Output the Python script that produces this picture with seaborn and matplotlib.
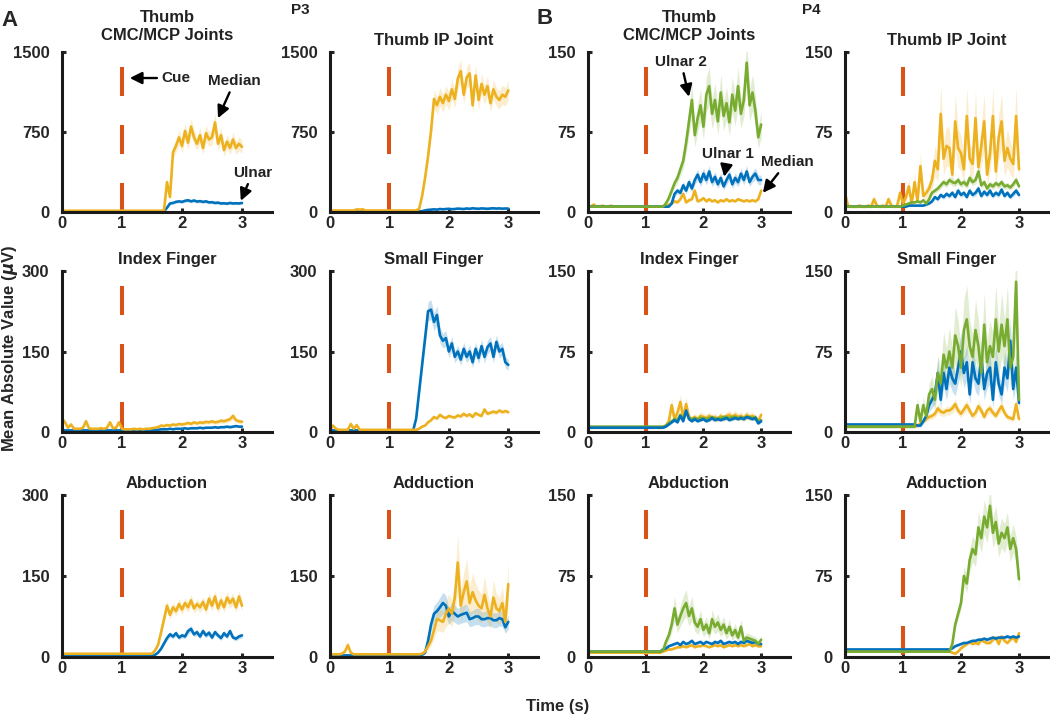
import numpy as np
import matplotlib.pyplot as plt
import seaborn as sns

# time axis (s), one sample every 50 ms
t = np.round(np.arange(61) * 0.05, 2)

# ---------------- P3 (median = yellow, ulnar = blue) ----------------
p3_cmc_median = [12, 12, 12, 12, 12, 12, 12, 12, 12, 12, 12, 12, 12, 12, 12, 12, 12, 12, 12, 12,
                 12, 12, 12, 12, 12, 12, 12, 12, 12, 12, 12, 12, 12, 12, 15, 280, 140, 560, 620, 700,
                 620, 760, 650, 800, 700, 640, 720, 600, 740, 680, 700, 840, 640, 720, 580, 660, 600, 680, 600, 640, 610]
p3_cmc_ulnar = [5, 5, 5, 5, 5, 5, 5, 5, 5, 5, 5, 5, 5, 5, 5, 5, 5, 5, 5, 5,
                5, 5, 5, 5, 5, 5, 5, 5, 5, 5, 5, 5, 5, 5, 6, 40, 80, 85, 95, 100,
                95, 105, 110, 100, 108, 98, 102, 95, 100, 90, 92, 85, 88, 80, 82, 78, 85, 80, 82, 80, 85]
p3_ip_median = [14, 14, 14, 14, 14, 14, 14, 14, 14, 25, 22, 25, 14, 14, 14, 14, 14, 14, 14, 14,
                14, 14, 14, 14, 14, 14, 14, 14, 14, 15, 30, 150, 320, 520, 760, 1060, 1000, 1080, 1020, 1100,
                1040, 1150, 1060, 1250, 1320, 1100, 1260, 1300, 1000, 1280, 1050, 1200, 1100, 1180, 1020, 1150,
                1080, 1050, 1100, 1080, 1140]
p3_ip_ulnar = [5, 5, 5, 5, 5, 5, 5, 5, 5, 5, 5, 5, 5, 5, 5, 5, 5, 5, 5, 5,
               5, 5, 5, 5, 5, 5, 5, 5, 5, 5, 5, 8, 15, 20, 22, 25, 22, 28, 25, 28,
               30, 26, 28, 32, 30, 28, 33, 30, 35, 32, 30, 34, 32, 30, 33, 35, 32, 34, 31, 33, 32]
p3_index_median = [25, 18, 8, 14, 6, 6, 6, 8, 20, 7, 6, 6, 6, 7, 6, 8, 18, 7, 8, 18,
                   6, 5, 5, 5, 6, 5, 6, 5, 6, 6, 7, 8, 9, 12, 11, 13, 12, 14, 13, 15,
                   14, 15, 17, 15, 18, 16, 18, 17, 19, 18, 20, 18, 19, 21, 20, 22, 24, 30, 22, 20, 19]
p3_index_ulnar = [4, 3, 3, 3, 3, 3, 3, 3, 3, 3, 3, 3, 3, 3, 3, 3, 3, 3, 3, 3,
                  3, 3, 3, 3, 3, 3, 3, 3, 3, 3, 3, 4, 4, 5, 5, 5, 6, 5, 6, 6,
                  6, 7, 6, 7, 7, 7, 8, 7, 8, 8, 8, 9, 8, 9, 9, 10, 9, 10, 11, 10, 10]
p3_small_median = [4, 12, 6, 4, 4, 4, 4, 15, 6, 13, 4, 4, 4, 4, 4, 4, 4, 4, 4, 4,
                   4, 4, 4, 4, 4, 4, 4, 4, 4, 4, 6, 10, 12, 18, 22, 28, 25, 32, 28, 26,
                   30, 28, 27, 31, 29, 34, 30, 33, 28, 35, 32, 30, 42, 34, 36, 38, 36, 40, 37, 39, 37]
p3_small_ulnar = [3, 3, 3, 3, 3, 3, 3, 3, 3, 3, 3, 3, 3, 3, 3, 3, 3, 3, 3, 3,
                  3, 3, 3, 3, 3, 3, 3, 3, 3, 25, 75, 125, 175, 225, 228, 205, 218, 180, 170, 175,
                  150, 165, 140, 150, 135, 155, 140, 150, 130, 155, 138, 160, 140, 158, 165, 140, 168, 150, 155, 130, 125]
p3_abd_median = [6, 6, 6, 6, 6, 6, 6, 6, 6, 6, 6, 6, 6, 6, 6, 6, 6, 6, 6, 6,
                 6, 6, 6, 6, 6, 6, 6, 6, 6, 6, 6, 12, 22, 45, 70, 95, 78, 92, 85, 98,
                 88, 100, 92, 105, 90, 98, 92, 102, 88, 108, 95, 112, 90, 105, 92, 110, 100, 108, 92, 112, 95]
p3_abd_ulnar = [2, 2, 2, 2, 2, 2, 2, 2, 2, 2, 2, 2, 2, 2, 2, 2, 2, 2, 2, 2,
                2, 2, 2, 2, 2, 2, 2, 2, 2, 2, 2, 4, 8, 15, 25, 35, 42, 38, 44, 36,
                40, 38, 48, 52, 42, 46, 38, 48, 40, 45, 36, 46, 40, 35, 44, 38, 48, 36, 34, 38, 40]
p3_add_median = [5, 5, 5, 5, 6, 10, 22, 8, 5, 5, 5, 5, 5, 5, 5, 5, 5, 5, 5, 5,
                 5, 5, 5, 5, 5, 5, 5, 5, 5, 5, 5, 6, 10, 20, 30, 50, 70, 68, 65, 80,
                 90, 80, 110, 175, 95, 120, 140, 100, 120, 105, 95, 90, 115, 90, 75, 110, 90, 85, 100, 65, 135]
p3_add_ulnar = [3, 3, 3, 3, 3, 3, 3, 3, 3, 3, 3, 3, 3, 3, 3, 3, 3, 3, 3, 3,
                3, 3, 3, 3, 3, 3, 3, 3, 3, 3, 3, 4, 8, 30, 60, 80, 85, 92, 100, 95,
                75, 85, 80, 75, 78, 80, 82, 70, 72, 75, 75, 70, 70, 72, 72, 68, 68, 72, 70, 55, 65]

# ---------------- P4 (median = yellow, ulnar 1 = blue, ulnar 2 = green) ----------------
p4_cmc_median = [6, 5, 7, 5, 5, 6, 5, 5, 6, 5, 5, 5, 5, 5, 5, 5, 5, 5, 5, 5,
                 5, 5, 5, 5, 5, 5, 5, 5, 7, 8, 10, 9, 12, 17, 9, 11, 12, 20, 10, 11,
                 13, 10, 12, 10, 11, 9, 11, 10, 12, 10, 11, 10, 12, 11, 10, 11, 10, 11, 10, 12, 20]
p4_cmc_ulnar1 = [5, 5, 5, 5, 5, 5, 5, 5, 5, 5, 5, 5, 5, 5, 5, 5, 5, 5, 5, 5,
                 5, 5, 5, 5, 5, 5, 5, 5, 5, 8, 17, 20, 18, 25, 20, 28, 22, 30, 35, 28,
                 36, 30, 38, 28, 33, 26, 32, 24, 30, 35, 26, 32, 28, 36, 30, 38, 28, 33, 36, 30, 30]
p4_cmc_ulnar2 = [5, 5, 5, 5, 5, 5, 5, 5, 5, 5, 5, 5, 5, 5, 5, 5, 5, 5, 5, 5,
                 5, 5, 5, 5, 5, 5, 5, 8, 13, 20, 27, 32, 40, 48, 65, 85, 105, 72, 88, 100,
                 80, 110, 118, 92, 105, 85, 112, 90, 102, 84, 110, 95, 118, 92, 105, 140, 100, 112, 95, 70, 82]
p4_ip_median = [18, 6, 5, 5, 5, 6, 5, 5, 6, 5, 12, 6, 5, 6, 5, 12, 6, 5, 6, 18,
                8, 14, 24, 8, 28, 10, 43, 15, 18, 22, 30, 48, 40, 92, 50, 62, 60, 35, 85, 60,
                55, 40, 90, 50, 45, 88, 42, 62, 85, 35, 55, 90, 38, 70, 85, 48, 60, 50, 45, 90, 40]
p4_ip_ulnar1 = [6, 5, 5, 5, 5, 5, 5, 5, 5, 5, 5, 5, 5, 5, 5, 5, 5, 5, 5, 5,
                5, 5, 6, 6, 6, 6, 6, 6, 7, 8, 10, 14, 12, 16, 14, 17, 15, 18, 14, 20,
                16, 18, 14, 20, 16, 18, 22, 15, 19, 16, 20, 15, 18, 16, 21, 15, 18, 14, 17, 20, 16]
p4_ip_ulnar2 = [5, 5, 5, 5, 5, 5, 5, 5, 5, 5, 5, 5, 5, 5, 5, 5, 5, 5, 5, 5,
                6, 7, 8, 9, 9, 10, 9, 11, 8, 12, 18, 20, 22, 25, 28, 26, 30, 28, 27, 30,
                26, 28, 25, 32, 28, 30, 38, 25, 28, 22, 26, 24, 27, 25, 28, 24, 25, 23, 26, 30, 24]
p4_index_median = [4, 4, 4, 4, 4, 4, 4, 4, 4, 4, 4, 4, 4, 4, 4, 4, 4, 4, 4, 4,
                   4, 4, 4, 4, 4, 4, 4, 6, 10, 25, 12, 18, 28, 14, 26, 14, 12, 14, 12, 15,
                   14, 13, 15, 13, 14, 12, 15, 13, 15, 16, 14, 16, 14, 15, 13, 16, 14, 15, 13, 10, 16]
p4_index_ulnar1 = [4, 4, 4, 4, 4, 4, 4, 4, 4, 4, 4, 4, 4, 4, 4, 4, 4, 4, 4, 4,
                   4, 4, 4, 4, 4, 4, 4, 5, 7, 9, 11, 9, 15, 10, 20, 12, 10, 12, 10, 11,
                   12, 10, 11, 13, 11, 12, 11, 12, 13, 11, 12, 13, 12, 13, 12, 14, 13, 12, 13, 8, 10]
p4_index_ulnar2 = [5, 5, 5, 5, 5, 5, 5, 5, 5, 5, 5, 5, 5, 5, 5, 5, 5, 5, 5, 5,
                   5, 5, 5, 5, 5, 5, 5, 6, 8, 10, 12, 11, 16, 12, 19, 13, 12, 13, 12, 13,
                   13, 12, 13, 14, 12, 13, 13, 14, 14, 13, 14, 14, 13, 14, 13, 14, 14, 13, 14, 10, 11]
p4_small_median = [5, 5, 5, 5, 5, 5, 5, 5, 5, 5, 5, 5, 5, 5, 5, 5, 5, 5, 5, 5,
                   5, 5, 5, 5, 5, 6, 8, 10, 12, 14, 15, 17, 22, 19, 18, 20, 20, 22, 26, 20,
                   17, 21, 25, 20, 15, 18, 24, 20, 14, 20, 22, 18, 15, 20, 24, 18, 14, 13, 12, 26, 12]
p4_small_ulnar1 = [7, 7, 7, 7, 7, 7, 7, 7, 7, 7, 7, 7, 7, 7, 7, 7, 7, 7, 7, 7,
                   7, 7, 7, 7, 7, 6, 6, 10, 15, 25, 30, 35, 55, 30, 55, 40, 60, 50, 45, 60,
                   75, 55, 65, 35, 65, 50, 45, 70, 40, 55, 60, 30, 65, 45, 35, 60, 50, 85, 40, 60, 27]
p4_small_ulnar2 = [5, 5, 5, 5, 5, 5, 5, 5, 5, 5, 5, 5, 5, 5, 5, 5, 5, 5, 5, 5,
                   5, 5, 5, 5, 5, 25, 10, 25, 15, 35, 40, 30, 55, 45, 72, 60, 75, 60, 90, 80,
                   60, 95, 105, 80, 70, 95, 80, 55, 100, 65, 80, 70, 105, 75, 100, 80, 105, 60, 70, 140, 30]
p4_abd_median = [4, 4, 4, 4, 4, 4, 4, 4, 4, 4, 4, 4, 4, 4, 4, 4, 4, 4, 4, 4,
                 4, 4, 4, 4, 4, 4, 5, 6, 7, 7, 8, 9, 9, 10, 9, 10, 11, 9, 10, 10,
                 11, 10, 9, 10, 11, 10, 11, 9, 10, 11, 10, 11, 10, 11, 10, 11, 12, 10, 11, 10, 10]
p4_abd_ulnar1 = [5, 5, 5, 5, 5, 5, 5, 5, 5, 5, 5, 5, 5, 5, 5, 5, 5, 5, 5, 5,
                 5, 5, 5, 5, 5, 5, 7, 8, 10, 11, 12, 13, 11, 14, 12, 13, 15, 12, 13, 14,
                 12, 14, 13, 12, 14, 13, 15, 12, 13, 14, 13, 14, 12, 14, 13, 15, 14, 13, 14, 12, 12]
p4_abd_ulnar2 = [5, 5, 5, 5, 5, 5, 5, 5, 5, 5, 5, 5, 5, 5, 5, 5, 5, 5, 5, 5,
                 5, 5, 5, 5, 5, 5, 6, 14, 20, 30, 45, 30, 38, 45, 50, 38, 45, 32, 28, 35,
                 25, 30, 22, 35, 28, 32, 25, 30, 22, 28, 20, 25, 18, 28, 15, 18, 17, 16, 15, 12, 16]
p4_add_median = [5, 5, 5, 5, 5, 5, 5, 5, 5, 5, 5, 5, 5, 5, 5, 5, 5, 5, 5, 5,
                 5, 5, 5, 5, 5, 5, 5, 5, 5, 5, 5, 5, 5, 5, 5, 5, 5, 4, 3, 5,
                 8, 10, 12, 14, 12, 13, 12, 16, 14, 13, 13, 16, 18, 12, 19, 15, 13, 16, 18, 14, 22]
p4_add_ulnar1 = [7, 7, 7, 7, 7, 7, 7, 7, 7, 7, 7, 7, 7, 7, 7, 7, 7, 7, 7, 7,
                 7, 7, 7, 7, 7, 7, 7, 7, 7, 7, 7, 7, 7, 7, 7, 7, 7, 8, 10, 11,
                 12, 13, 13, 14, 15, 15, 16, 16, 17, 16, 17, 18, 17, 18, 18, 18, 19, 18, 19, 18, 19]
p4_add_ulnar2 = [5, 5, 5, 5, 5, 5, 5, 5, 5, 5, 5, 5, 5, 5, 5, 5, 5, 5, 5, 5,
                 5, 5, 5, 5, 5, 5, 5, 5, 5, 5, 5, 5, 5, 5, 5, 5, 5, 12, 30, 40,
                 50, 75, 68, 90, 100, 95, 120, 110, 130, 120, 140, 115, 125, 105, 115, 110, 120, 100, 110, 100, 72]

BLUE, YELLOW, GREEN, RED = '#0072BD', '#EDB120', '#77AC30', '#D95319'

sns.set_theme(style='ticks')
plt.rcParams['font.family'] = ['Liberation Sans', 'DejaVu Sans']

fig = plt.figure(figsize=(10.5, 7.17), dpi=100)

col_left = [62, 330, 588, 845]
col_width = [210, 208, 202, 203]
row_top = [52, 271, 495]
row_height = [160, 161, 162]

# (row, col, title, y max, [(values, colour, relative band half-width)])
panels = [
    (0, 0, 'Thumb\nCMC/MCP Joints', 1500,
     [(p3_cmc_ulnar, BLUE, 0.15), (p3_cmc_median, YELLOW, 0.10)]),
    (0, 1, 'Thumb IP Joint', 1500,
     [(p3_ip_ulnar, BLUE, 0.20), (p3_ip_median, YELLOW, 0.08)]),
    (0, 2, 'Thumb\nCMC/MCP Joints', 150,
     [(p4_cmc_median, YELLOW, 0.12), (p4_cmc_ulnar1, BLUE, 0.15), (p4_cmc_ulnar2, GREEN, 0.15)]),
    (0, 3, 'Thumb IP Joint', 150,
     [(p4_ip_median, YELLOW, 0.30), (p4_ip_ulnar1, BLUE, 0.15), (p4_ip_ulnar2, GREEN, 0.12)]),
    (1, 0, 'Index Finger', 300,
     [(p3_index_ulnar, BLUE, 0.20), (p3_index_median, YELLOW, 0.20)]),
    (1, 1, 'Small Finger', 300,
     [(p3_small_ulnar, BLUE, 0.08), (p3_small_median, YELLOW, 0.10)]),
    (1, 2, 'Index Finger', 150,
     [(p4_index_median, YELLOW, 0.25), (p4_index_ulnar2, GREEN, 0.15), (p4_index_ulnar1, BLUE, 0.12)]),
    (1, 3, 'Small Finger', 150,
     [(p4_small_median, YELLOW, 0.20), (p4_small_ulnar1, BLUE, 0.25), (p4_small_ulnar2, GREEN, 0.30)]),
    (2, 0, 'Abduction', 300,
     [(p3_abd_ulnar, BLUE, 0.12), (p3_abd_median, YELLOW, 0.10)]),
    (2, 1, 'Adduction', 300,
     [(p3_add_ulnar, BLUE, 0.20), (p3_add_median, YELLOW, 0.30)]),
    (2, 2, 'Abduction', 150,
     [(p4_abd_median, YELLOW, 0.10), (p4_abd_ulnar1, BLUE, 0.10), (p4_abd_ulnar2, GREEN, 0.25)]),
    (2, 3, 'Adduction', 150,
     [(p4_add_median, YELLOW, 0.12), (p4_add_ulnar1, BLUE, 0.10), (p4_add_ulnar2, GREEN, 0.12)]),
]

W, H = 1050, 717
axes = {}
for r, c, title, ymax, series in panels:
    left = col_left[c] / W
    bottom = 1 - (row_top[r] + row_height[r]) / H
    ax = fig.add_axes([left, bottom, col_width[c] / W, row_height[r] / H])
    axes[(r, c)] = ax

    # cue marker at t = 1 s
    ax.plot([1, 1], [0.906 * ymax, 0], color=RED, lw=2.9,
            linestyle=(0, (7.2, 7.2)), dash_capstyle='butt', zorder=1.5)

    for vals, color, frac in series:
        v = np.asarray(vals, dtype=float)
        ax.fill_between(t, v * (1 - frac), v * (1 + frac), color=color, alpha=0.22, lw=0)
        sns.lineplot(x=t, y=v, color=color, lw=1.9, ax=ax)

    ax.set_xlim(0, 3.5)
    ax.set_ylim(0, ymax)
    ax.set_xticks([0, 1, 2, 3])
    ax.set_yticks([0, ymax // 2, ymax])
    ax.set_xticklabels(['0', '1', '2', '3'])
    ax.set_yticklabels(['0', str(ymax // 2), str(ymax)])
    ax.tick_params(axis='both', direction='in', length=3, width=2.2, labelsize=12)
    ax.tick_params(axis='x', pad=3)
    ax.tick_params(axis='y', pad=9)
    for lbl in ax.get_xticklabels() + ax.get_yticklabels():
        lbl.set_fontweight('bold')
    sns.despine(ax=ax)
    for s in ['left', 'bottom']:
        ax.spines[s].set_linewidth(2.2)
        ax.spines[s].set_color('#1a1a1a')
    ax.set_xlabel('')
    ax.set_ylabel('')
    ax.set_title(title, fontsize=12, fontweight='bold', pad=9 if '\n' in title else 5, color='#222222')

# annotations
arrow = dict(arrowstyle='-|>', color='black', lw=1.7, mutation_scale=18, shrinkA=1, shrinkB=0)
ann_kw = dict(fontsize=11, fontweight='bold', color='#222222')

ax = axes[(0, 0)]
ax.annotate('Cue', xy=(1.13, 1256), xytext=(1.66, 1256), ha='left', va='center', arrowprops=arrow, **ann_kw)
ax.annotate('Median', xy=(2.6, 880), xytext=(2.88, 1230), ha='center', va='center', arrowprops=arrow, **ann_kw)
ax.annotate('Ulnar', xy=(2.98, 105), xytext=(3.18, 370), ha='center', va='center',
            arrowprops=arrow, annotation_clip=False, **ann_kw)

ax = axes[(0, 2)]
ax.annotate('Ulnar 2', xy=(1.75, 108), xytext=(1.61, 141), ha='center', va='center', arrowprops=arrow, **ann_kw)
ax.annotate('Ulnar 1', xy=(2.36, 33), xytext=(2.43, 54), ha='center', va='center', arrowprops=arrow, **ann_kw)
ax.annotate('Median', xy=(3.03, 18), xytext=(3.45, 47), ha='center', va='center',
            arrowprops=arrow, annotation_clip=False, **ann_kw)

# panel letters and shared labels
fig.text(9 / W, 1 - 20 / H, 'A', fontsize=16, fontweight='bold', ha='center', va='center')
fig.text(300 / W, 1 - 10 / H, 'P3', fontsize=11, fontweight='bold', ha='center', va='center', color='#222222')
fig.text(545 / W, 1 - 19 / H, 'B', fontsize=16, fontweight='bold', ha='center', va='center')
fig.text(811 / W, 1 - 10 / H, 'P4', fontsize=11, fontweight='bold', ha='center', va='center', color='#222222')
fig.text(10 / W, 1 - 348 / H, r'Mean Absolute Value ($\boldsymbol{\mu}$V)', rotation=90,
         fontsize=12, fontweight='bold', ha='center', va='center')
fig.text(558 / W, 1 - 707 / H, 'Time (s)', fontsize=12, fontweight='bold', ha='center', va='center')

fig.savefig('out.png', dpi=100)
